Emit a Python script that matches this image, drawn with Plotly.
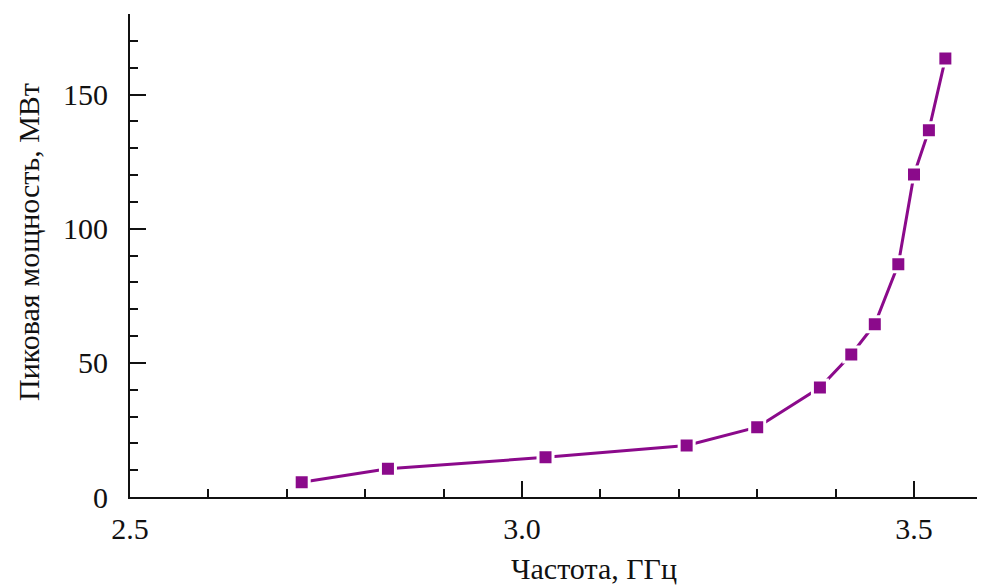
import plotly.graph_objects as go

freq_ghz = [2.719, 2.829, 3.030, 3.210, 3.300, 3.380, 3.420, 3.450, 3.480, 3.500, 3.519, 3.540]
power_mw = [5.5, 10.5, 14.8, 19.2, 26.0, 40.8, 53.1, 64.4, 86.7, 120.2, 136.7, 163.4]

x_ticks = [2.5, 3.0, 3.5]
x_ticklabels = ["2.5", "3.0", "3.5"]
y_ticks = [0, 50, 100, 150]
y_ticklabels = ["0", "50", "100", "150"]

purple = "#8B0A8B"
axis_col = "#111111"
font_family = "Liberation Serif, Times New Roman, serif"

# page body has an 8px margin, so the figure is sized/offset to compensate
W, H = 977, 579
L, R, T, B = 122, 0, 6, 90
PW, PH = W - L - R, H - T - B

fig = go.Figure()
fig.add_trace(go.Scatter(
    x=freq_ghz, y=power_mw, mode="lines+markers",
    line=dict(color=purple, width=3),
    marker=dict(symbol="square", size=15, color=purple,
                line=dict(color="white", width=3)),
    cliponaxis=False, showlegend=False,
))

fig.update_layout(
    width=W, height=H,
    margin=dict(l=L, r=R, t=T, b=B, autoexpand=False),
    paper_bgcolor="white", plot_bgcolor="white",
    font=dict(family=font_family, color="#111", size=30),
    xaxis=dict(
        range=[2.5, 2.5 + PW / 784], showgrid=False, zeroline=False,
        showline=True, linecolor=axis_col, linewidth=2,
        ticks="inside", ticklen=16, tickwidth=2, tickcolor=axis_col,
        tickvals=x_ticks, ticktext=x_ticklabels,
        ticklabelstandoff=4,
        minor=dict(dtick=0.1, tick0=2.5, ticks="inside", ticklen=8,
                   tickwidth=2, tickcolor=axis_col, showgrid=False),
    ),
    yaxis=dict(
        range=[0, 180], showgrid=False, zeroline=False,
        showline=True, linecolor=axis_col, linewidth=2,
        ticks="inside", ticklen=16, tickwidth=2, tickcolor=axis_col,
        tickvals=y_ticks, ticktext=y_ticklabels,
        ticklabelstandoff=14,
        minor=dict(dtick=10, tick0=0, ticks="inside", ticklen=8,
                   tickwidth=2, tickcolor=axis_col, showgrid=False),
    ),
    annotations=[
        dict(text="Частота, ГГц", xref="paper", yref="paper",
             x=(586 - L) / PW, y=((T + PH) - 560) / PH,
             xanchor="center", yanchor="middle",
             showarrow=False, font=dict(size=30, family=font_family)),
        dict(text="Пиковая мощность, МВт", xref="paper", yref="paper",
             x=(20 - L) / PW, y=((T + PH) - 234) / PH, textangle=-90,
             xanchor="center", yanchor="middle",
             showarrow=False, font=dict(size=30, family=font_family)),
    ],
)

fig.write_html("out.html")
